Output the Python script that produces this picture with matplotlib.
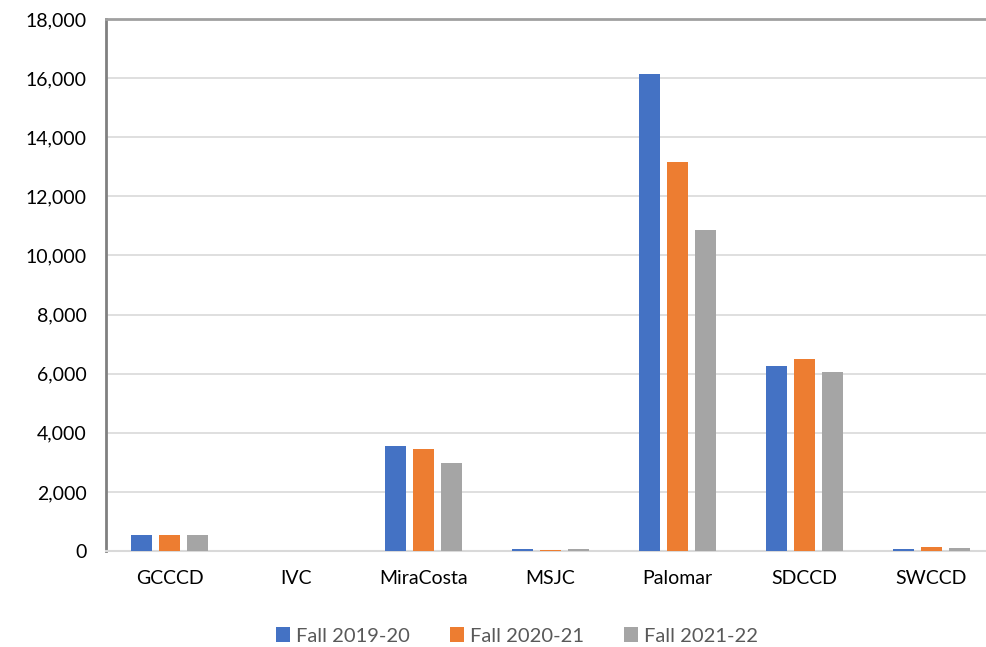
import numpy as np
import matplotlib
matplotlib.use('Agg')
import matplotlib.pyplot as plt
from matplotlib.ticker import FuncFormatter

# Данные
districts = ['GCCCD', 'IVC', 'MiraCosta', 'MSJC', 'Palomar', 'SDCCD', 'SWCCD']
fall_2019 = [540, 0, 3560, 70, 16140, 6260, 80]
fall_2020 = [540, 0, 3460, 40, 13160, 6500, 120]
fall_2021 = [530, 0, 2980, 60, 10860, 6060, 100]
series_names = ['Fall 2019-20', 'Fall 2020-21', 'Fall 2021-22']
colors = ['#4472C4', '#ED7D31', '#A5A5A5']

plt.rcParams['font.family'] = ['Lato', 'DejaVu Sans']

fig = plt.figure(figsize=(9.87, 6.47), dpi=100)
ax = fig.add_axes([106/987, 1 - 551/647, 889/987, 532/647])

x = np.arange(len(districts))
w = 0.165
step = 0.22
for k, vals in enumerate([fall_2019, fall_2020, fall_2021]):
    ax.bar(x + (k - 1) * step, vals, width=w, color=colors[k], label=series_names[k], zorder=3)

ax.set_xlim(-0.5, len(districts) - 0.5)
ax.set_ylim(0, 18000)
ax.set_yticks(np.arange(0, 18001, 2000))
ax.yaxis.set_major_formatter(FuncFormatter(lambda v, p: f'{int(v):,}'))
ax.set_xticks(x)
ax.set_xticklabels(districts)
ax.tick_params(axis='both', length=0, labelsize=14, colors='black')
ax.tick_params(axis='x', pad=14)
ax.tick_params(axis='y', pad=14)

ax.grid(axis='y', color='#D9D9D9', linewidth=1.2, zorder=0)
ax.spines['left'].set_color('#808080')
ax.spines['left'].set_linewidth(2)
ax.spines['top'].set_color('#A0A0A0')
ax.spines['top'].set_linewidth(2)
ax.spines['bottom'].set_color('#D9D9D9')
ax.spines['bottom'].set_linewidth(1.5)
ax.spines['right'].set_visible(False)

leg = ax.legend(loc='center', bbox_to_anchor=(411/889, -85/532), ncol=3, frameon=False,
                fontsize=14.5, handlelength=0.7, handleheight=0.7, handletextpad=0.3,
                columnspacing=2.0)
for t in leg.get_texts():
    t.set_color('#595959')

fig.savefig('out.png', dpi=100)
